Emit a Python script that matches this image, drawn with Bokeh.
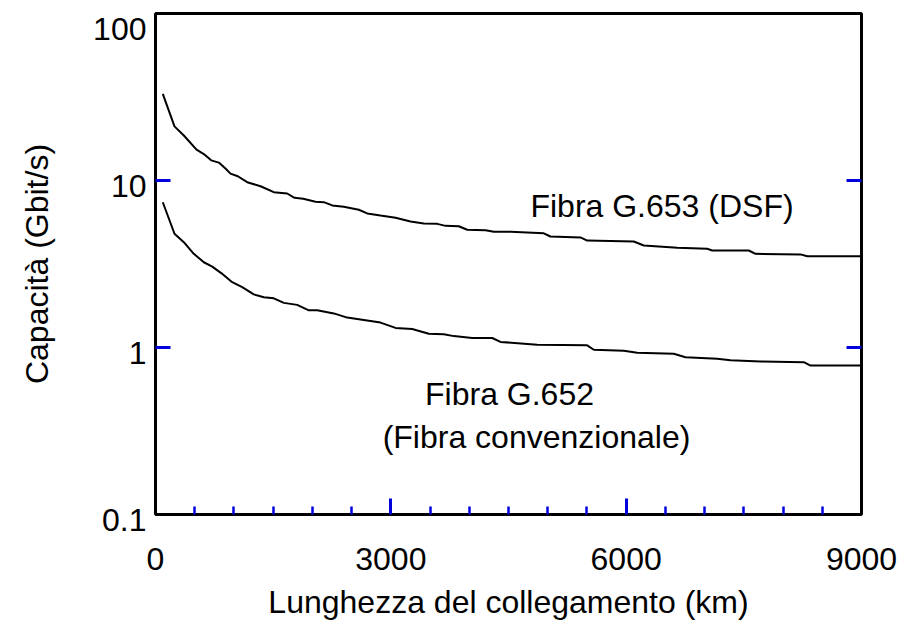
from bokeh.plotting import figure
from bokeh.models import Range1d, FixedTicker, LogAxis, LinearAxis, CustomJSTickFormatter
from bokeh.core.properties import value
from bokeh.embed import file_html
from bokeh.resources import INLINE

# Fibra G.653 (DSF): length (km) vs capacity (Gbit/s)
dsf_km = [93, 242, 361, 523, 616, 710, 807, 892, 956, 1049, 1169, 1339, 1508, 1679,
          1772, 1883, 2040, 2146, 2253, 2400, 2592, 2699, 2868, 3060, 3251, 3420,
          3591, 3697, 3866, 3974, 4207, 4313, 4526, 4950, 5035, 5418, 5503, 6097,
          6225, 6651, 7033, 7097, 7563, 7649, 8223, 8308, 9000]
dsf_cap = [33.0, 21.1, 18.6, 15.3, 14.4, 13.2, 12.8, 11.8, 11.0, 10.6, 9.77, 9.24, 8.51,
           8.36, 7.88, 7.77, 7.46, 7.42, 7.09, 6.96, 6.68, 6.35, 6.17, 5.98, 5.68, 5.53,
           5.50, 5.35, 5.32, 5.07, 5.04, 4.93, 4.93, 4.83, 4.62, 4.56, 4.37, 4.31,
           4.08, 3.95, 3.90, 3.81, 3.81, 3.64, 3.61, 3.52, 3.52]

# Fibra G.652 (convenzionale)
g652_km = [93, 242, 361, 488, 616, 723, 838, 978, 1105, 1253, 1381, 1508, 1636, 1806,
           1954, 2061, 2273, 2444, 2613, 2868, 3060, 3272, 3484, 3675, 3803, 4037,
           4292, 4398, 4866, 5503, 5588, 5970, 6141, 6607, 6756, 7161, 7330, 7713,
           8265, 8350, 9000]
g652_cap = [7.41, 4.80, 4.27, 3.64, 3.24, 3.05, 2.79, 2.46, 2.30, 2.08, 2.00, 1.97, 1.85,
            1.80, 1.67, 1.67, 1.60, 1.51, 1.47, 1.41, 1.31, 1.29, 1.21, 1.20, 1.17,
            1.14, 1.14, 1.08, 1.04, 1.03, 0.969, 0.955, 0.930, 0.917, 0.875, 0.856,
            0.839, 0.824, 0.817, 0.780, 0.780]

x_label_ticks = [0, 3000, 6000, 9000]
x_long_ticks = [3000, 6000]
x_short_ticks = [500, 1000, 1500, 2000, 2500, 3500, 4000, 4500, 5000, 5500,
                 6500, 7000, 7500, 8000, 8500]
y_label_ticks = [0.1, 1, 10, 100]
y_inner_ticks = [1, 10]

FONT = "Liberation Sans"
TICK_BLUE = "#0000dd"

p = figure(width=907, height=628, x_range=Range1d(0, 9000), y_range=Range1d(0.1, 100),
           y_axis_type="log", output_backend="svg", toolbar_location=None,
           min_border_left=155, min_border_right=46, min_border_top=13, min_border_bottom=114)

p.background_fill_color = "white"
p.border_fill_color = "white"
p.outline_line_color = "black"
p.outline_line_width = 3
p.grid.visible = False

# x axis, inner tick marks (nearest the frame, no numbers)
xt = p.xaxis[0]
xt.ticker = FixedTicker(ticks=x_long_ticks, minor_ticks=x_short_ticks)
xt.axis_line_color = None
xt.major_tick_in = 16
xt.major_tick_out = 0
xt.major_tick_line_color = TICK_BLUE
xt.major_tick_line_width = 3
xt.minor_tick_in = 8
xt.minor_tick_out = 0
xt.minor_tick_line_color = TICK_BLUE
xt.minor_tick_line_width = 2.5
xt.major_label_text_color = None
xt.major_label_standoff = 0

# x axis with the numbers and the title
xa = LinearAxis(ticker=FixedTicker(ticks=x_label_ticks, minor_ticks=[]))
xa.axis_line_color = None
xa.major_tick_line_color = None
xa.minor_tick_line_color = None
xa.major_tick_in = 0
xa.major_tick_out = 0
xa.major_label_text_font = FONT
xa.major_label_text_font_size = "32px"
xa.major_label_text_color = "black"
xa.major_label_standoff = 33
xa.axis_label = "Lunghezza del collegamento (km)"
xa.axis_label_text_font = FONT
xa.axis_label_text_font_size = "32px"
xa.axis_label_text_font_style = "normal"
xa.axis_label_text_color = "black"
xa.axis_label_standoff = 11
p.add_layout(xa, "below")

# y axis (left): numbers sit a little below their tick, as in the reference
ya = p.yaxis[0]
ya.ticker = FixedTicker(ticks=y_label_ticks, minor_ticks=y_inner_ticks)
ya.formatter = CustomJSTickFormatter(
    code="const s = tick < 1 ? tick.toFixed(1) : tick.toFixed(0); return '\\n' + s;")
ya.axis_line_color = None
ya.major_tick_line_color = None
ya.major_tick_in = 0
ya.major_tick_out = 0
ya.minor_tick_in = 15
ya.minor_tick_out = 0
ya.minor_tick_line_color = TICK_BLUE
ya.minor_tick_line_width = 3
ya.major_label_text_font = FONT
ya.major_label_text_font_size = "32px"
ya.major_label_text_line_height = 0.3
ya.major_label_text_color = "black"
ya.major_label_standoff = 9
ya.axis_label = "Capacità (Gbit/s)"
ya.axis_label_text_font = FONT
ya.axis_label_text_font_size = "32px"
ya.axis_label_text_font_style = "normal"
ya.axis_label_text_color = "black"
ya.axis_label_standoff = 35

# y axis (right, ticks only)
ra = LogAxis(ticker=FixedTicker(ticks=y_inner_ticks, minor_ticks=[]))
ra.axis_line_color = None
ra.major_tick_in = 15
ra.major_tick_out = 0
ra.major_tick_line_color = TICK_BLUE
ra.major_tick_line_width = 3
ra.minor_tick_line_color = None
ra.major_label_text_color = None
ra.major_label_standoff = 0
p.add_layout(ra, "right")

# curves
p.line(dsf_km, dsf_cap, line_color="black", line_width=2)
p.line(g652_km, g652_cap, line_color="black", line_width=2)

# annotations
p.text(x=[6457], y=[7.08], text=["Fibra G.653 (DSF)"], text_font=value(FONT),
       text_font_size="32px", text_align="center", text_baseline="alphabetic",
       text_color="black")
p.text(x=[4513], y=[0.530], text=["Fibra G.652"], text_font=value(FONT),
       text_font_size="32px", text_align="center", text_baseline="alphabetic",
       text_color="black")
p.text(x=[4857], y=[0.293], text=["(Fibra convenzionale)"], text_font=value(FONT),
       text_font_size="32px", text_align="center", text_baseline="alphabetic",
       text_color="black")

open("out.html", "w").write(file_html(p, INLINE))
